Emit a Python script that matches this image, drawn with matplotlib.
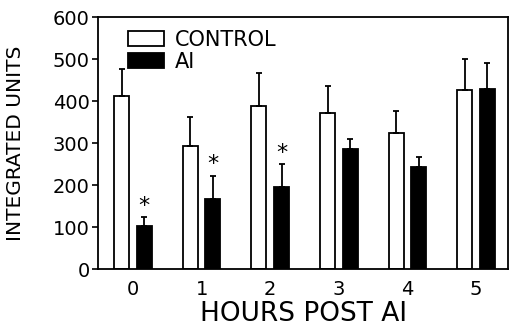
import numpy as np
import matplotlib
matplotlib.use('Agg')
import matplotlib.pyplot as plt

hours = [0, 1, 2, 3, 4, 5]
control = [412, 292, 388, 371, 324, 426]
control_err = [64, 70, 79, 65, 52, 74]
ai = [102, 167, 196, 286, 243, 429]
ai_err = [22, 55, 54, 24, 24, 61]
signif = [True, True, True, False, False, False]

plt.rcParams['font.family'] = ['DejaVu Sans']

fig = plt.figure(figsize=(5.16, 3.29), dpi=100)
ax = fig.add_axes([0.19, 0.182, 0.795, 0.766])

x = np.array(hours)
w = 0.22
off = 0.165
ekw = dict(ecolor='black', elinewidth=1.3, capsize=2.5, capthick=1.3)
ax.bar(x - off, control, w, color='white', edgecolor='black', linewidth=1.3,
       yerr=[np.zeros(len(control)), control_err], error_kw=ekw, label='CONTROL')
ax.bar(x + off, ai, w, color='black', edgecolor='black', linewidth=1.3,
       yerr=[np.zeros(len(ai)), ai_err], error_kw=ekw, label='AI')

# asterisques au dessus des barres significatives
for xi, v, e, s in zip(x, ai, ai_err, signif):
    if s:
        ax.annotate('*', (xi + off, v + e), xytext=(0, 1), textcoords='offset points',
                    ha='center', va='bottom', fontsize=16)

ax.set_xlim(-0.51, 5.47)
ax.set_ylim(0, 600)
ax.set_yticks(range(0, 601, 100))
ax.set_xticks(hours)
ax.tick_params(axis='y', direction='out', length=4, width=1.2, labelsize=14, pad=2)
ax.tick_params(axis='x', length=0, labelsize=14, pad=8)
for sp in ax.spines.values():
    sp.set_linewidth(1.3)

ax.set_xlabel('HOURS POST AI', fontsize=19, labelpad=1)
ax.set_ylabel('INTEGRATED UNITS', fontsize=14.5)
ax.yaxis.set_label_coords(-0.178, 0.5)

ax.legend(loc='upper left', frameon=False, fontsize=15, handlelength=1.7,
          handleheight=0.75, handletextpad=0.55, borderaxespad=0.2,
          labelspacing=0.12, bbox_to_anchor=(0.043, 1.0))

fig.savefig('out.png', dpi=100)
